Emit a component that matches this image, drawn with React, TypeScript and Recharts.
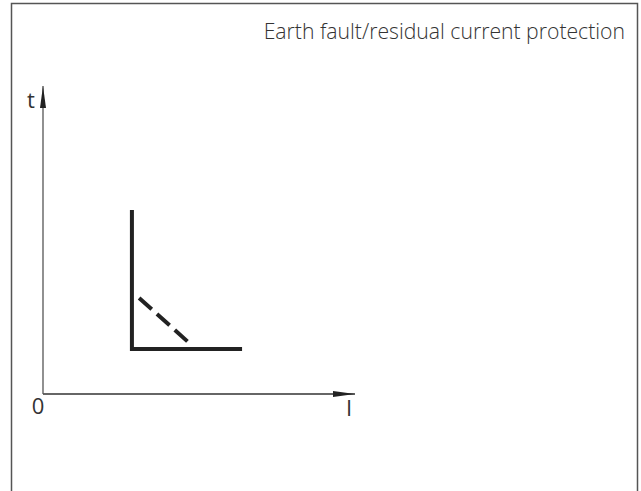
import { Line, LineChart, ReferenceDot, ReferenceLine, XAxis, YAxis } from 'recharts';

// characteristic curve (I on x, t on y), axis units 0..100
const curveI = [28.5, 28.5, 63.8];
const curveT = [59.7, 14.6, 14.6];
const dashI = [30.8, 46.5];
const dashT = [31.2, 16.9];

const title = 'Earth fault/residual current protection';
const xName = 'I';
const yName = 't';
const originLabel = '0';

const curve = curveI.map((i, k) => ({ i, t: curveT[k] }));
const dashed = dashI.map((i, k) => ({ i, t: dashT[k] }));

const W = 641;
const H = 491;
const ink = '#222';
const font = '"Open Sans", "DejaVu Sans", sans-serif';

function ArrowX({ cx, cy }: { cx?: number; cy?: number }) {
  if (cx == null || cy == null) return null;
  return (
    <g>
      <path d={`M${cx},${cy} L${cx - 22},${cy - 3} L${cx - 22},${cy + 3} Z`} fill={ink} />
      <text x={cx - 6} y={cy + 22} fontSize={22} fontFamily={font} fill="#333" textAnchor="middle">
        {xName}
      </text>
    </g>
  );
}

function ArrowY({ cx, cy }: { cx?: number; cy?: number }) {
  if (cx == null || cy == null) return null;
  return (
    <g>
      <path d={`M${cx},${cy} L${cx - 3},${cy + 22} L${cx + 3},${cy + 22} Z`} fill={ink} />
      <text x={cx - 12} y={cy + 22} fontSize={22} fontFamily={font} fill="#333" textAnchor="middle">
        {yName}
      </text>
    </g>
  );
}

function Origin({ cx, cy }: { cx?: number; cy?: number }) {
  if (cx == null || cy == null) return null;
  return (
    <text x={cx - 5} y={cy + 20} fontSize={22} fontFamily={font} fill="#333" textAnchor="middle">
      {originLabel}
    </text>
  );
}

export default function App() {
  return (
    <div style={{ position: 'absolute', left: 0, top: 0, width: W, height: H, background: '#fff' }}>
      <svg width={W} height={H} style={{ position: 'absolute', left: 0, top: 0 }}>
        <path d={`M11.5,${H} V3.5 H637.5 V${H}`} fill="none" stroke="#555" strokeWidth={1.5} />
        <text x={625} y={39} fontSize={21.2} fontFamily={font} fontWeight={300} fill="#333" textAnchor="end">
          {title}
        </text>
      </svg>
      <div style={{ position: 'absolute', left: 0, top: 0 }}>
        <LineChart width={W} height={H} margin={{ top: 86, right: 286, bottom: 97, left: 43 }}>
          <XAxis type="number" dataKey="i" domain={[0, 100]} allowDataOverflow hide />
          <YAxis type="number" dataKey="t" domain={[0, 100]} allowDataOverflow hide />
          <ReferenceLine y={0} stroke="#333" strokeWidth={1.3} ifOverflow="visible" />
          <ReferenceLine x={0} stroke="#555" strokeWidth={1.3} ifOverflow="visible" />
          <Line
            data={curve}
            dataKey="t"
            type="linear"
            stroke={ink}
            strokeWidth={4}
            dot={false}
            activeDot={false}
            strokeLinejoin="miter"
            isAnimationActive={false}
          />
          <Line
            data={dashed}
            dataKey="t"
            type="linear"
            stroke={ink}
            strokeWidth={4}
            strokeDasharray="17 7"
            dot={false}
            activeDot={false}
            isAnimationActive={false}
          />
          <ReferenceDot x={100} y={0} ifOverflow="visible" shape={(p: any) => <ArrowX {...p} />} />
          <ReferenceDot x={0} y={100} ifOverflow="visible" shape={(p: any) => <ArrowY {...p} />} />
          <ReferenceDot x={0} y={0} ifOverflow="visible" shape={(p: any) => <Origin {...p} />} />
        </LineChart>
      </div>
    </div>
  );
}
